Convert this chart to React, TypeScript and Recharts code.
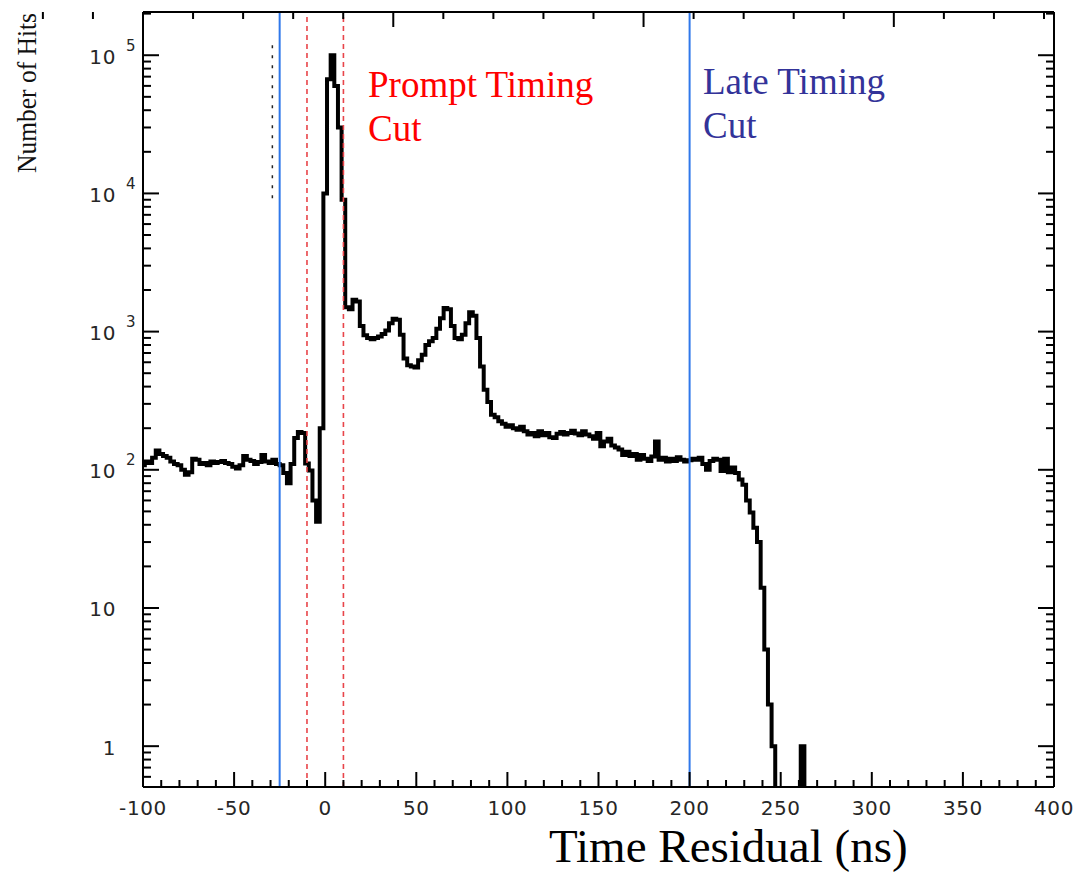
import React from "react";
import { LineChart, Line, XAxis, YAxis, ReferenceLine } from "recharts";

// histogram of hit time residuals, 2 ns bins, first bin starts at -101 ns
const BIN_START = -101;
const BIN_WIDTH = 2;

// hits per bin (bin centres -100, -98, ... 264)
const HITS = [
  108, 115, 112, 122, 138, 130, 126, 122, 115, 110, // -100
  108, 100, 92, 96, 120, 118, 110, 112, 108, 115, // -80
  112, 114, 116, 112, 110, 105, 102, 108, 126, 118, // -60
  116, 110, 114, 128, 115, 112, 118, 110, 108, 95, // -40
  80, 110, 170, 188, 185, 111, 99, 60, 42, 200, // -20
  10000, 67000, 100000, 60000, 30000, 9000, 1500, 1450, 1700, 1650, // 0
  1100, 940, 900, 880, 900, 920, 960, 1020, 1150, 1240, // 20
  1220, 950, 640, 570, 560, 550, 620, 680, 800, 850, // 40
  900, 1050, 1250, 1480, 1450, 1100, 900, 880, 950, 1150, // 60
  1380, 1300, 900, 560, 380, 310, 250, 240, 225, 215, // 80
  205, 210, 200, 195, 205, 190, 180, 185, 175, 190, // 100
  178, 185, 172, 170, 182, 188, 180, 185, 192, 183, // 120
  178, 190, 180, 175, 168, 185, 148, 160, 168, 150, // 140
  145, 140, 128, 135, 126, 130, 118, 128, 120, 116, // 160
  125, 160, 118, 122, 115, 120, 116, 123, 118, 115, // 180
  117, 120, 118, 122, 110, 100, 116, 120, 118, 98, // 200
  120, 96, 104, 95, 85, 78, 60, 49, 38, 30, // 220
  14, 5, 2, 1, 0, 0, 0, 0, 0, 0, // 240
  0, 1, 0, // 260
];

const PROMPT_CUT = [-10, 10];
const LATE_CUT = [-25, 200];
// stray dotted scan mark left of the peak: [x, yTop, yBottom]
const SCAN_MARK = [-29, 118000, 8200];

const X_DOMAIN = [-100, 400];
const Y_DOMAIN = [0.5065, 205500];
const X_MAJOR = 50;
const X_MINOR = 10;
const EMPTY = 0.1; // zero bins drawn below the log axis

const data = HITS.map((n, i) => ({
  t: BIN_START + i * BIN_WIDTH,
  n: n > 0 ? n : EMPTY,
}));

const xTicks: number[] = [];
for (let v = X_DOMAIN[0]; v <= X_DOMAIN[1]; v += X_MINOR) xTicks.push(v);

const yTicks: number[] = [];
for (let d = -1; d <= 5; d++) {
  for (let m = 1; m <= 9; m++) {
    const v = m * Math.pow(10, d);
    if (v >= Y_DOMAIN[0] && v <= Y_DOMAIN[1]) yTicks.push(v);
  }
}

const tickFont = "'DejaVu Sans', sans-serif";
const serif = "'Liberation Serif', 'Times New Roman', serif";
const labelColor = "#262626";

function isDecade(v: number) {
  const l = Math.log10(v);
  return Math.abs(l - Math.round(l)) < 1e-6;
}

function BottomTick({ x, y, payload }: any) {
  const major = payload.value % X_MAJOR === 0;
  return (
    <g>
      <line x1={x} x2={x} y1={y} y2={y - (major ? 15 : 7)} stroke="#000" strokeWidth={2} />
      {major && (
        <text
          x={x}
          y={y + 28}
          textAnchor="middle"
          fontFamily={tickFont}
          fontSize={20}
          letterSpacing={0.6}
          fill={labelColor}
          stroke="none"
        >
          {payload.value}
        </text>
      )}
    </g>
  );
}

function TopTick({ x, y, payload }: any) {
  const major = payload.value % X_MAJOR === 0;
  return <line x1={x} x2={x} y1={y} y2={y + (major ? 15 : 7)} stroke="#000" strokeWidth={2} />;
}

function LeftTick({ x, y, payload }: any) {
  const major = isDecade(payload.value);
  const exp = Math.round(Math.log10(payload.value));
  return (
    <g>
      <line x1={x} x2={x + (major ? 16 : 8)} y1={y} y2={y} stroke="#000" strokeWidth={2} />
      {major && (
        <text
          x={x - 27}
          y={y + 8.5}
          textAnchor="end"
          fontFamily={tickFont}
          fontSize={20}
          letterSpacing={0.6}
          fill={labelColor}
          stroke="none"
        >
          {exp === 0 ? "1" : "10"}
        </text>
      )}
      {major && exp >= 2 && (
        <text
          x={x - 17}
          y={y - 4.5}
          textAnchor="start"
          fontFamily={tickFont}
          fontSize={15}
          fill={labelColor}
          stroke="none"
        >
          {exp}
        </text>
      )}
    </g>
  );
}

function RightTick({ x, y, payload }: any) {
  const major = isDecade(payload.value);
  return <line x1={x} x2={x - (major ? 16 : 8)} y1={y} y2={y} stroke="#000" strokeWidth={2} />;
}

export default function App() {
  const frame = { stroke: "#000", strokeWidth: 2 };
  return (
    <div style={{ position: "absolute", left: 0, top: 0, width: 1079, height: 873, background: "#fff" }}>
      <LineChart width={1079} height={873} data={data} margin={{ top: 2, right: 15, bottom: 46, left: 83 }}>
        <XAxis
          dataKey="t"
          type="number"
          domain={X_DOMAIN}
          allowDataOverflow
          ticks={xTicks}
          interval={0}
          height={40}
          tickSize={0}
          tickMargin={0}
          axisLine={frame}
          tickLine={false}
          tick={BottomTick}
        />
        <XAxis
          xAxisId="top"
          orientation="top"
          type="number"
          domain={X_DOMAIN}
          allowDataOverflow
          ticks={xTicks}
          interval={0}
          height={10}
          tickSize={0}
          tickMargin={0}
          axisLine={frame}
          tickLine={false}
          tick={TopTick}
        />
        <YAxis
          type="number"
          scale="log"
          domain={Y_DOMAIN}
          allowDataOverflow
          ticks={yTicks}
          interval={0}
          width={60}
          tickSize={0}
          tickMargin={0}
          axisLine={frame}
          tickLine={false}
          tick={LeftTick}
        />
        <YAxis
          yAxisId="right"
          orientation="right"
          type="number"
          scale="log"
          domain={Y_DOMAIN}
          allowDataOverflow
          ticks={yTicks}
          interval={0}
          width={10}
          tickSize={0}
          tickMargin={0}
          axisLine={frame}
          tickLine={false}
          tick={RightTick}
        />
        <Line
          dataKey="n"
          type="stepAfter"
          stroke="#000"
          strokeWidth={4}
          strokeLinejoin="miter"
          dot={false}
          activeDot={false}
          isAnimationActive={false}
        />
        <ReferenceLine
          segment={[
            { x: SCAN_MARK[0], y: SCAN_MARK[1] },
            { x: SCAN_MARK[0], y: SCAN_MARK[2] },
          ]}
          stroke="#222"
          strokeWidth={1.5}
          strokeDasharray="3 7"
        />
        {LATE_CUT.map((v) => (
          <ReferenceLine key={`late-${v}`} x={v} stroke="#2f78ea" strokeWidth={2} />
        ))}
        {PROMPT_CUT.map((v) => (
          <ReferenceLine key={`prompt-${v}`} x={v} stroke="#e8454a" strokeWidth={1.6} strokeDasharray="5 4" />
        ))}
      </LineChart>
      <svg width={1079} height={873} style={{ position: "absolute", left: 0, top: 0, pointerEvents: "none" }}>
        <text
          x={36}
          y={93}
          transform="rotate(-90 36 93)"
          textAnchor="middle"
          fontFamily={serif}
          fontSize={27}
          textLength={160}
          lengthAdjust="spacingAndGlyphs"
          fill="#111"
        >
          Number of Hits
        </text>
        <text fontFamily={serif} fontSize={37} fill="#ff0000">
          <tspan x={368} y={97}>Prompt Timing</tspan>
          <tspan x={368} y={141}>Cut</tspan>
        </text>
        <text fontFamily={serif} fontSize={37} fill="#333399">
          <tspan x={703} y={94}>Late Timing</tspan>
          <tspan x={703} y={138}>Cut</tspan>
        </text>
        <text x={549} y={862} fontFamily={serif} fontSize={47} fill="#000">
          Time Residual (ns)
        </text>
      </svg>
    </div>
  );
}
